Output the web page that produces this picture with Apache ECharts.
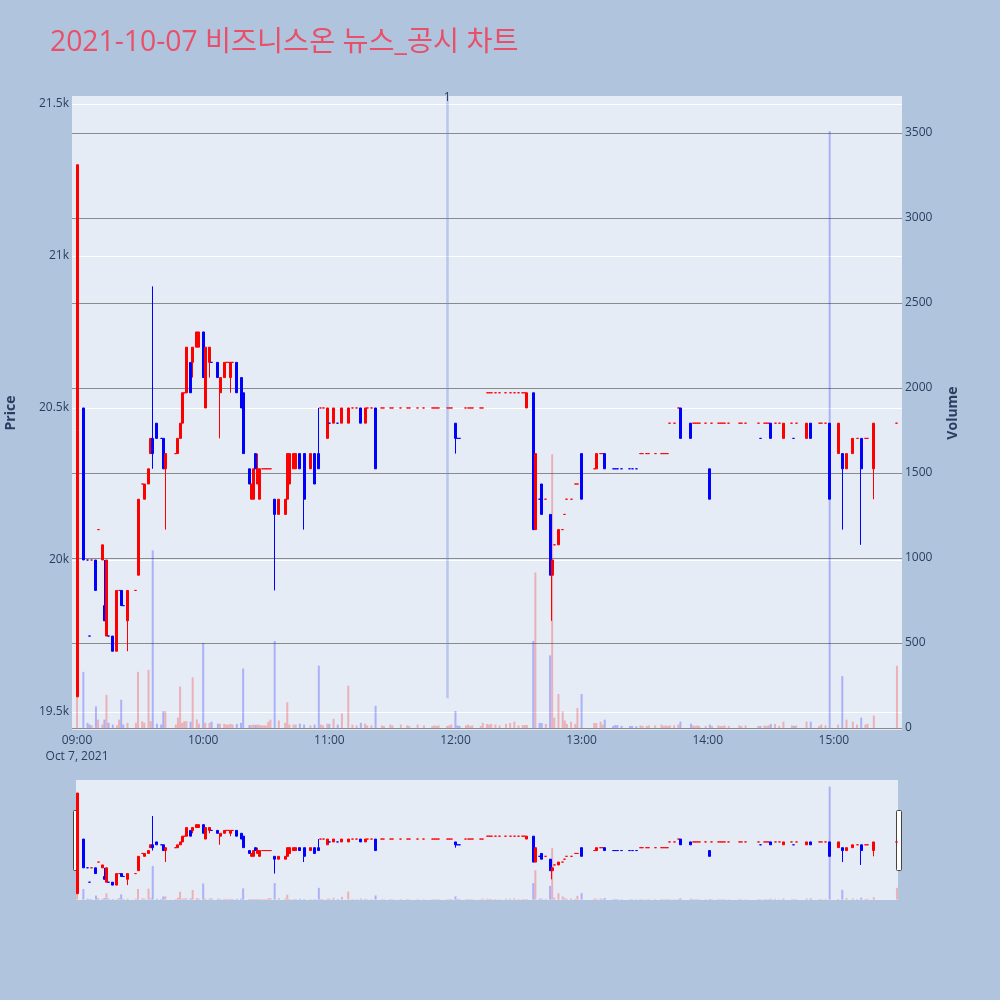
<!DOCTYPE html>
<html><head><meta charset="utf-8">
<script src="https://cdn.jsdelivr.net/npm/echarts@6/dist/echarts.min.js"></script>
<style>html,body{margin:0;padding:0;background:#B0C4DE}#c{width:1000px;height:1000px}</style>
</head><body><div id="c"></div>
<script>
const titleText = '2021-10-07 비즈니스온 뉴스_공시 차트';
const tradeDate = '2021-10-07';
const dateLabel = 'Oct 7, 2021';
// [time, open, close, low, high, volume]
const h09 = [
 ['09:00',19550,21300,19550,21300,250],['09:03',20500,20000,20000,20500,330],['09:05',20000,20000,20000,20000,30],
 ['09:06',19750,19750,19750,19750,20],['09:07',20000,20000,20000,20000,15],['09:09',20000,19900,19900,20000,127],
 ['09:10',20100,20100,20100,20100,49],['09:12',20000,20050,20000,20050,20],['09:13',19850,19800,19800,20000,49],
 ['09:14',19750,20000,19750,20000,195],['09:15',19750,19750,19750,19750,30],['09:17',19750,19700,19700,19750,20],
 ['09:19',19700,19900,19700,19900,15],['09:20',19900,19900,19900,19900,49],['09:21',19900,19850,19850,19900,166],
 ['09:22',19850,19850,19850,19850,20],['09:24',19800,19900,19700,19900,30],['09:28',19900,19900,19900,19900,30],
 ['09:29',19950,20200,19950,20200,330],['09:31',20250,20250,20250,20250,40],['09:32',20200,20250,20200,20250,30],
 ['09:34',20250,20300,20250,20300,342],['09:35',20350,20400,20350,20400,40],['09:36',20400,20350,20300,20900,1045],
 ['09:38',20450,20400,20400,20450,25],['09:40',20400,20400,20400,20400,20],['09:41',20400,20300,20300,20400,98],
 ['09:42',20300,20350,20100,20350,98],['09:47',20350,20350,20350,20350,20],['09:48',20350,20400,20350,20400,61],
 ['09:49',20400,20450,20400,20450,244],['09:50',20450,20550,20450,20550,30],['09:51',20550,20550,20550,20550,40],
 ['09:52',20550,20700,20550,20700,40],['09:54',20650,20550,20550,20650,37],['09:55',20650,20700,20600,20700,298],
 ['09:57',20700,20750,20700,20750,50],['09:58',20700,20750,20700,20750,25]
];
const h10 = [
 ['10:00',20750,20600,20600,20750,500],['10:01',20500,20700,20500,20700,30],['10:03',20650,20700,20600,20700,30],
 ['10:04',20650,20650,20650,20650,37],['10:07',20650,20600,20600,20650,25],['10:08',20550,20600,20400,20600,25],
 ['10:10',20600,20650,20600,20650,24],['10:11',20650,20650,20650,20650,20],['10:12',20650,20650,20650,20650,20],
 ['10:13',20600,20650,20550,20650,24],['10:14',20650,20650,20650,20650,20],['10:16',20650,20550,20550,20650,24],
 ['10:18',20600,20500,20500,20600,30],['10:19',20550,20350,20350,20550,350],['10:22',20300,20250,20250,20300,17],
 ['10:23',20200,20250,20200,20250,17],['10:24',20200,20300,20200,20300,20],['10:25',20350,20300,20300,20350,17],
 ['10:26',20250,20300,20250,20350,20],['10:27',20200,20300,20200,20300,17],['10:28',20300,20300,20300,20300,15],
 ['10:29',20300,20300,20300,20300,15],['10:30',20300,20300,20300,20300,15],['10:31',20300,20300,20300,20300,37],
 ['10:32',20300,20300,20300,20300,49],['10:34',20200,20150,19900,20200,512],['10:36',20150,20200,20150,20200,44],
 ['10:39',20150,20200,20150,20200,30],['10:40',20200,20350,20200,20350,151],['10:41',20250,20350,20250,20350,20],
 ['10:43',20300,20350,20300,20350,20],['10:44',20300,20350,20300,20350,20],['10:46',20350,20300,20300,20350,25],
 ['10:48',20350,20200,20100,20350,20],['10:51',20300,20350,20300,20350,15],['10:53',20350,20250,20250,20350,20],
 ['10:55',20350,20300,20300,20500,366],['10:56',20500,20500,20500,20500,20],['10:57',20500,20500,20500,20500,15],
 ['10:59',20400,20500,20400,20500,25]
];
const h11 = [
 ['11:00',20450,20450,20450,20450,24],['11:02',20450,20500,20450,20500,54],['11:04',20450,20450,20450,20450,20],
 ['11:06',20450,20500,20450,20500,85],['11:09',20450,20500,20450,20500,249],['11:11',20500,20500,20500,20500,20],
 ['11:13',20500,20500,20500,20500,15],['11:15',20500,20450,20450,20500,30],['11:17',20450,20500,20450,20500,25],
 ['11:18',20500,20500,20500,20500,15],['11:20',20500,20500,20500,20500,15],['11:22',20500,20300,20300,20500,130],
 ['11:25',20500,20500,20500,20500,15],['11:26',20500,20500,20500,20500,12],['11:29',20500,20500,20500,20500,20],
 ['11:30',20500,20500,20500,20500,15],['11:34',20500,20500,20500,20500,20],['11:37',20500,20500,20500,20500,15],
 ['11:38',20500,20500,20500,20500,12],['11:42',20500,20500,20500,20500,20],['11:45',20500,20500,20500,20500,15],
 ['11:49',20500,20500,20500,20500,12],['11:50',20500,20500,20500,20500,15],['11:51',20500,20500,20500,20500,12],
 ['11:52',20500,20500,20500,20500,15],['11:56',20500,20500,20500,20500,12],['11:57',20500,20500,20500,20500,15],
 ['11:58',20500,20500,20500,20500,20]
];
const h12 = [
 ['12:00',20450,20400,20350,20450,100],['12:01',20400,20400,20400,20400,15],['12:02',20400,20400,20400,20400,12],
 ['12:05',20500,20500,20500,20500,15],['12:06',20500,20500,20500,20500,20],['12:07',20500,20500,20500,20500,12],
 ['12:08',20500,20500,20500,20500,15],['12:12',20500,20500,20500,20500,12],['12:13',20500,20500,20500,20500,30],
 ['12:15',20550,20550,20550,20550,24],['12:16',20550,20550,20550,20550,20],['12:17',20550,20550,20550,20550,24],
 ['12:19',20550,20550,20550,20550,20],['12:21',20550,20550,20550,20550,15],['12:24',20550,20550,20550,20550,24],
 ['12:26',20550,20550,20550,20550,29],['12:28',20550,20550,20550,20550,37],['12:30',20550,20550,20550,20550,15],
 ['12:32',20550,20550,20550,20550,17],['12:33',20550,20550,20550,20550,17],['12:34',20500,20550,20500,20550,17],
 ['12:37',20550,20100,20100,20550,512],['12:38',20100,20350,20100,20350,915],['12:40',20200,20200,20200,20200,29],
 ['12:41',20250,20150,20150,20250,29],['12:43',20200,20200,20200,20200,24],['12:45',20150,19950,19950,20150,427],
 ['12:46',19950,20000,19800,20000,1610],['12:47',20050,20050,20050,20050,61],['12:49',20050,20100,20050,20100,200],
 ['12:51',20100,20100,20100,20100,98],['12:52',20150,20150,20150,20150,44],['12:53',20200,20200,20200,20200,24],
 ['12:55',20200,20200,20200,20200,37],['12:57',20250,20250,20250,20250,24],['12:58',20250,20250,20250,20250,117]
];
const h13 = [
 ['13:00',20350,20200,20200,20350,200],['13:06',20300,20300,20300,20300,29],['13:07',20300,20350,20300,20350,29],
 ['13:09',20350,20350,20350,20350,37],['13:10',20350,20350,20350,20350,20],['13:11',20350,20300,20300,20350,49],
 ['13:15',20300,20300,20300,20300,12],['13:16',20300,20300,20300,20300,17],['13:17',20300,20300,20300,20300,17],
 ['13:19',20300,20300,20300,20300,12],['13:23',20300,20300,20300,20300,12],['13:24',20300,20300,20300,20300,12],
 ['13:26',20300,20300,20300,20300,10],['13:28',20350,20350,20350,20350,15],['13:29',20350,20350,20350,20350,12],
 ['13:31',20350,20350,20350,20350,12],['13:32',20350,20350,20350,20350,15],['13:35',20350,20350,20350,20350,15],
 ['13:38',20350,20350,20350,20350,20],['13:39',20350,20350,20350,20350,12],['13:40',20350,20350,20350,20350,15],
 ['13:41',20350,20350,20350,20350,12],['13:42',20450,20450,20450,20450,15],['13:44',20450,20450,20450,20450,15],
 ['13:46',20500,20500,20500,20500,20],['13:47',20500,20400,20400,20500,37],['13:52',20450,20400,20400,20450,25],
 ['13:53',20450,20450,20450,20450,15],['13:54',20450,20450,20450,20450,12],['13:55',20450,20450,20450,20450,15],
 ['13:56',20450,20450,20450,20450,12],['13:59',20450,20450,20450,20450,12]
];
const h14 = [
 ['14:01',20300,20200,20200,20300,20],['14:02',20450,20450,20450,20450,12],['14:05',20450,20450,20450,20450,15],
 ['14:06',20450,20450,20450,20450,12],['14:07',20450,20450,20450,20450,12],['14:08',20450,20450,20450,20450,15],
 ['14:10',20450,20450,20450,20450,12],['14:15',20450,20450,20450,20450,15],['14:16',20450,20450,20450,20450,12],
 ['14:18',20450,20450,20450,20450,15],['14:24',20450,20450,20450,20450,12],['14:25',20400,20400,20400,20400,12],
 ['14:27',20450,20450,20450,20450,15],['14:28',20450,20450,20450,20450,12],['14:29',20450,20450,20450,20450,15],
 ['14:30',20450,20400,20400,20450,24],['14:32',20450,20450,20450,20450,24],['14:34',20450,20450,20450,20450,12],
 ['14:36',20400,20450,20400,20450,37],['14:40',20450,20450,20450,20450,15],['14:41',20400,20400,20400,20400,12],
 ['14:42',20450,20450,20450,20450,15],['14:47',20400,20450,20400,20450,37],['14:49',20450,20400,20400,20450,37],
 ['14:53',20450,20450,20450,20450,12],['14:54',20450,20450,20450,20450,20],['14:56',20450,20450,20450,20450,15],
 ['14:58',20450,20200,20200,20450,3512]
];
const h15 = [
 ['15:02',20350,20450,20350,20450,20],['15:04',20350,20300,20100,20350,305],['15:06',20300,20350,20300,20350,49],
 ['15:09',20350,20400,20350,20400,37],['15:11',20400,20400,20400,20400,20],['15:13',20400,20300,20050,20400,61],
 ['15:15',20400,20400,20400,20400,20],['15:16',20400,20400,20400,20400,25],['15:19',20300,20450,20200,20450,73],
 ['15:30',20450,20450,20450,20450,366]
];
const priceTicks = [19500, 20000, 20500, 21000, 21500];
const volumeTicks = [0, 500, 1000, 1500, 2000, 2500, 3000, 3500];
const newsMarks = [['11:56', '1']];

const UP = '#FF0000', DOWN = '#0000FF';
const VUP = 'rgba(255,0,0,0.25)', VDOWN = 'rgba(0,0,255,0.25)';
const FONT = '"Open Sans", "Noto Sans CJK KR", sans-serif';
const PMIN = 19441, PMAX = 21526, VMIN = -12, VMAX = 3718;

const rows = [].concat(h09, h10, h11, h12, h13, h14, h15);
const ts = t => tradeDate + ' ' + t;
let inc = true, prevClose = null;
const dirs = rows.map(r => {
  const o = r[1], c = r[2];
  if (c !== o) inc = c > o;
  else if (prevClose !== null && c !== prevClose) inc = c > prevClose;
  prevClose = c;
  return inc;
});
const candleData = rows.map((r, i) => {
  const col = dirs[i] ? UP : DOWN;
  return { value: [ts(r[0]), r[1], r[2], r[3], r[4]],
    itemStyle: { color: col, color0: col, borderColor: col, borderColor0: col, borderColorDoji: col } };
});
const volData = rows.map((r, i) => [ts(r[0]), r[5], dirs[i] ? 1 : 0]);
const pad = n => String(n).padStart(2, '0');
const volRender = (params, api) => {
  const top = api.coord([api.value(0), api.value(1)]);
  const base = api.coord([api.value(0), 0]);
  return { type: 'rect', shape: { x: top[0] - 1, y: top[1], width: 2, height: base[1] - top[1] },
    style: { fill: api.value(2) ? VUP : VDOWN } };
};

const chart = echarts.init(document.getElementById('c'), null, { renderer: 'canvas' });
chart.setOption({
  animation: false,
  backgroundColor: '#B0C4DE',
  textStyle: { fontFamily: FONT },
  title: { text: titleText, left: 50, top: 29, padding: 0,
    textStyle: { color: '#E8506A', fontSize: 28.3, fontWeight: 'normal', fontFamily: FONT } },
  grid: [
    { left: 72, right: 98, top: 96, height: 634, show: true, backgroundColor: '#E5ECF6', borderWidth: 0,
      outerBoundsMode: 'none', containLabel: false },
    { left: 76, right: 102, top: 780, height: 120, show: true, backgroundColor: '#E5ECF6', borderWidth: 0,
      outerBoundsMode: 'none', containLabel: false }
  ],
  xAxis: [
    { type: 'time', gridIndex: 0, min: ts('08:57:36'), max: ts('15:32:24'),
      minInterval: 3600000, maxInterval: 3600000,
      axisLine: { show: false }, axisTick: { show: false }, splitLine: { show: false },
      axisLabel: { color: '#2a3f5f', fontSize: 12, margin: 3, lineHeight: 16, showMinLabel: false, showMaxLabel: false,
        formatter: v => { const d = new Date(v); const s = pad(d.getHours()) + ':' + pad(d.getMinutes());
          return s === '09:00' ? s + '\n' + dateLabel : s; } } },
    { type: 'time', gridIndex: 1, min: ts('08:59:30'), max: ts('15:30:30'), show: false }
  ],
  yAxis: [
    { type: 'value', gridIndex: 0, position: 'left', min: PMIN, max: PMAX,
      name: 'Price', nameLocation: 'middle', nameGap: 54, nameRotate: 90,
      nameTextStyle: { color: '#2a3f5f', fontSize: 14, fontWeight: 'bold' },
      axisLine: { show: false }, axisTick: { show: false, customValues: priceTicks },
      axisLabel: { customValues: priceTicks, color: '#2a3f5f', fontSize: 12, margin: 3,
        formatter: v => (v / 1000) + 'k' },
      splitLine: { show: true, lineStyle: { color: '#FFFFFF', width: 1 } } },
    { type: 'value', gridIndex: 0, position: 'right', min: VMIN, max: VMAX,
      name: 'Volume', nameLocation: 'middle', nameGap: 44, nameRotate: 90,
      nameTextStyle: { color: '#2a3f5f', fontSize: 14, fontWeight: 'bold' },
      axisLine: { show: false }, axisTick: { show: false, customValues: volumeTicks },
      axisLabel: { customValues: volumeTicks, color: '#2a3f5f', fontSize: 12, margin: 3, formatter: v => String(v) },
      splitLine: { show: true, lineStyle: { color: '#8a8a8a', width: 1 } } },
    { type: 'value', gridIndex: 1, min: PMIN, max: PMAX, show: false, splitLine: { show: false } },
    { type: 'value', gridIndex: 1, min: VMIN, max: VMAX, show: false, splitLine: { show: false } }
  ],
  series: [
    { type: 'custom', name: 'Volume', xAxisIndex: 0, yAxisIndex: 1, renderItem: volRender, data: volData, z: 1,
      encode: { x: 0, y: 1 } },
    { type: 'candlestick', name: 'Price', xAxisIndex: 0, yAxisIndex: 0, barWidth: 2.5,
      itemStyle: { borderWidth: 1 }, data: candleData, z: 2,
      markLine: { silent: true, symbol: ['none', 'none'], animation: false,
        lineStyle: { color: 'rgba(100,130,220,0.35)', width: 2.5, type: 'solid' },
        label: { show: true, position: 'start', distance: -8, color: '#2a3f5f', fontSize: 12, formatter: p => p.name },
        data: newsMarks.map(([t, lbl]) => [
          { coord: [ts(t), PMAX], name: lbl },
          { coord: [ts(t), PMIN + 0.05 * (PMAX - PMIN)], name: lbl }]) } },
    { type: 'custom', xAxisIndex: 1, yAxisIndex: 3, renderItem: volRender, data: volData, z: 1,
      encode: { x: 0, y: 1 } },
    { type: 'candlestick', xAxisIndex: 1, yAxisIndex: 2, barWidth: 2.5,
      itemStyle: { borderWidth: 1 }, data: candleData, z: 2 }
  ],
  graphic: [
    { type: 'rect', left: 73, top: 810, shape: { width: 5, height: 60, r: 1 },
      style: { fill: '#FFFFFF', stroke: '#444', lineWidth: 1 } },
    { type: 'rect', left: 896, top: 810, shape: { width: 5, height: 60, r: 1 },
      style: { fill: '#FFFFFF', stroke: '#444', lineWidth: 1 } }
  ]
});
</script></body></html>
